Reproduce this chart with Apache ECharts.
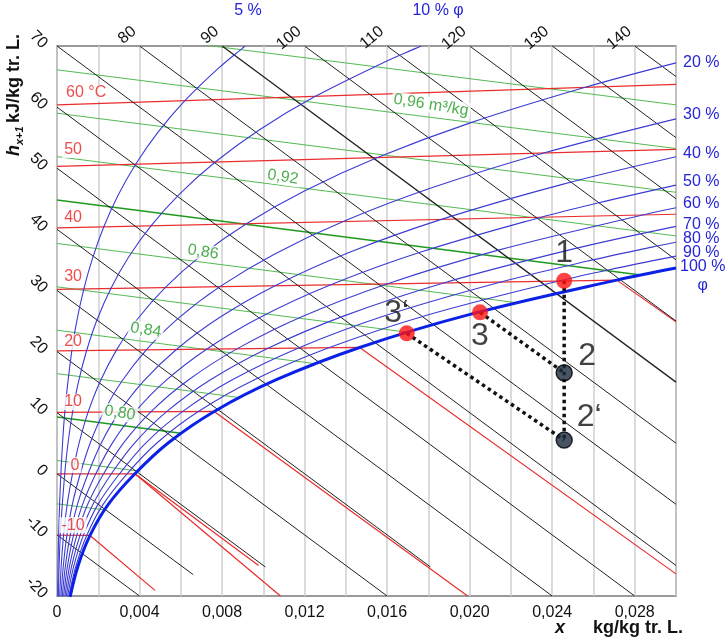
<!DOCTYPE html>
<html>
<head>
<meta charset="utf-8">
<script src="https://cdn.jsdelivr.net/npm/echarts@6/dist/echarts.min.js"></script>
<style>
  html, body { margin: 0; padding: 0; background: #fff; }
  #chart { width: 726px; height: 640px; }
</style>
</head>
<body>
<div id="chart"></div>
<script>
// h,x-Diagramm: x in g/kg, senkrecht h - 2,5*x (kJ/kg)

// relative Feuchte phi
const phi5 = [[0.032,-20.12],[0.080,-10.06],[0.188,0],[0.377,10.06],[0.718,20.15],[0.971,25.20],[1.302,30.25],[1.728,35.32],[2.270,40.41],[2.954,45.52],[3.812,50.65],[4.880,55.83],[6.198,61.05],[7.814,66.33],[8.953,69.54],[9.12,70.0]]
const phi10 = [[0.063,-20.12],[0.160,-10.06],[0.375,0],[0.536,5.04],[0.754,10.07],[1.047,15.12],[1.437,20.17],[1.946,25.24],[2.610,30.33],[3.465,35.44],[4.556,40.58],[5.938,45.77],[7.671,51.01],[9.836,56.34],[12.52,61.76],[15.83,67.30],[17.36,69.57],[17.66,70.0]]
const phi20 = [[0.127,-20.12],[0.203,-15.10],[0.319,-10.07],[0.493,-5.03],[0.751,0],[1.072,5.04],[1.509,10.09],[2.097,15.15],[2.880,20.23],[3.904,25.33],[5.242,30.47],[6.968,35.66],[9.179,40.92],[11.99,46.27],[15.53,51.74],[19.99,57.38],[25.56,63.21],[30.0,67.24]]
const phi30 = [[0.190,-20.13],[0.305,-15.10],[0.479,-10.07],[0.741,-5.04],[1.128,0],[1.610,5.045],[2.266,10.10],[3.150,15.18],[4.330,20.28],[5.874,25.42],[7.895,30.62],[10.51,35.89],[13.87,41.27],[18.16,46.79],[23.59,52.49],[30.0,58.08]]
const phi40 = [[0.254,-20.13],[0.406,-15.10],[0.639,-10.07],[0.988,-5.04],[1.505,0],[2.148,5.05],[3.025,10.12],[4.207,15.21],[5.787,20.34],[7.857,25.52],[10.57,30.77],[14.09,36.13],[18.63,41.63],[24.45,47.32],[30.0,51.87]]
const phi50 = [[0.317,-20.13],[0.508,-15.10],[0.799,-10.07],[1.236,-5.04],[1.882,0],[2.687,5.055],[3.786,10.13],[5.269,15.24],[7.250,20.39],[9.853,25.61],[13.27,30.92],[17.71,36.36],[23.47,41.99],[26.20,44.30],[30.0,47.23]]
const phi60 = [[0.381,-20.13],[0.609,-15.11],[0.959,-10.07],[1.483,-5.04],[2.259,0],[3.227,5.06],[4.548,10.14],[6.333,15.27],[8.721,20.44],[11.86,25.70],[15.99,31.07],[21.39,36.60],[28.38,42.35],[30.0,43.53]]
const phi70 = [[0.444,-20.14],[0.711,-15.11],[1.119,-10.08],[1.731,-5.05],[2.637,0],[3.768,5.065],[5.314,10.16],[7.400,15.30],[10.20,20.50],[13.88,25.80],[18.74,31.23],[25.09,36.84],[30.0,40.49]]
const phi80 = [[0.508,-20.14],[0.813,-15.12],[1.279,-10.08],[1.979,-5.05],[3.031,0],[4.311,5.07],[6.080,10.17],[8.472,15.33],[11.68,20.55],[15.92,25.89],[21.51,31.38],[25.67,34.77],[28.84,37.09],[30.0,37.88]]
const phi90 = [[0.571,-20.14],[0.915,-15.12],[1.439,-10.09],[2.227,-5.05],[3.395,0],[4.853,5.075],[6.848,10.19],[9.547,15.36],[13.17,20.61],[17.96,25.99],[24.31,31.54],[27.37,33.82],[30.0,35.62]]
const phi100 = [[0.635,-20.14],[1.016,-15.12],[1.600,-10.09],[2.476,-5.05],[3.775,0],[5.40,5.08],[7.62,10.20],[10.63,15.39],[14.67,20.67],[20.02,26.08],[27.13,31.69],[30.0,33.66]]
const phiCurves = [phi5, phi10, phi20, phi30, phi40, phi50, phi60, phi70, phi80, phi90]
const phiNames = ['5 %', '10 % φ', '20 %', '30 %', '40 %', '50 %', '60 %', '70 %', '80 %', '90 %']

// Isothermen (rot), mit Nebelgebiet
const iso60 = [[0,60.36],[30,63.71]]
const iso50 = [[0,50.30],[30,53.09]]
const iso40 = [[0,40.24],[30,42.47]]
const iso30 = [[0,30.18],[27.13,31.69],[30,24.87]]
const iso20 = [[0,20.12],[14.67,20.67],[30,-16.38]]
const iso10 = [[0,10.06],[7.62,10.20],[19.90,-20]]
const iso0 = [[0,0],[3.775,0],[9.77,-15]]
const iso0ice = [[3.775,0],[10.83,-20]]
const isoM10 = [[0,-10.06],[1.60,-10.09],[4.75,-19.08]]
const isotherms = [iso60, iso50, iso40, iso30, iso20, iso10, iso0, iso0ice, isoM10]

// Enthalpie-Linien (schwarz), h = -10 ... 140
const hValues = [-10, 0, 10, 20, 30, 40, 50, 60, 70, 80, 90, 100, 110, 120, 130, 140]
const hLines = [
  [[0,-10],[4.0,-20]], [[0,0],[6.6,-16.5]], [[0,10],[10.1,-15.25]], [[0,20],[16.0,-20]],
  [[0,30],[18.1,-15.25]], [[0,40],[24.0,-20]], [[0,50],[28.0,-20]], [[0,60],[30,-15]],
  [[0,70],[30,-5]], [[4,70],[30,5]], [[8,70],[30,15]], [[12,70],[30,25]],
  [[16,70],[30,35]], [[20,70],[30,45]], [[24,70],[30,55]], [[28,70],[30,65]]
]

// spez. Volumen (gruen), m3/kg
const volValues = [0.76, 0.78, 0.80, 0.82, 0.84, 0.86, 0.88, 0.90, 0.92, 0.94, 0.96, 0.98]
const volLines = [
  [[0,-4.92],[2.29,-5.90]], [[0,2.18],[3.90,0.46]], [[0,9.29],[6.01,6.64]], [[0,16.39],[8.83,12.48]],
  [[0,23.49],[12.50,18.02]], [[0,30.59],[16.97,23.17]], [[0,37.69],[22.28,27.99]], [[0,44.80],[28.3,32.52]],
  [[0,51.90],[30,38.92]], [[0,59.00],[30,46.06]], [[0,66.10],[30,53.22]], [[5,71.08],[30,60.37]]
]

// Zustandspunkte
const pointNames = ['1', '3', '3‘', '2', '2‘']
const pointX = [24.58, 20.50, 16.95, 24.58, 24.58]
const pointY = [31.59, 26.42, 22.98, 16.53, 5.51]

// Achsen
const xTicks = [0, 0.004, 0.008, 0.012, 0.016, 0.020, 0.024, 0.028]
const xTickLabels = ['0', '0,004', '0,008', '0,012', '0,016', '0,020', '0,024', '0,028']
const topTickLabels = ['', '80', '90', '100', '110', '120', '130', '140']

// Beschriftungen im Diagramm
const tempLabels = ['60 °C', '50', '40', '30', '20', '10', '0', '-10']
const tempLabelX = [1.41, 0.78, 0.78, 0.78, 0.78, 0.78, 0.87, 0.78]
const tempLabelY = [62.31, 52.98, 41.85, 32.19, 21.56, 11.74, 1.42, -8.40]
const volLabels = ['0,80', '0,84', '0,86', '0,92', '0,96 m³/kg']
const volLabelX = [3.05, 4.31, 7.08, 10.95, 18.13]
const volLabelY = [9.93, 23.52, 36.28, 48.56, 60.34]

const FONT = 'Liberation Sans, Arial, sans-serif'
const BLUE = '#3c3cd2'
const LBLUE = '#2424d8'

const toKg = pts => pts.map(p => [p[0] / 1000, p[1]])
const tickLabel = (labels) => (v) => {
  for (let i = 0; i < xTicks.length; i++) {
    if (Math.abs(v - xTicks[i]) < 1e-9) return labels[i]
  }
  return ''
}

function line(pts, color, width, z, extra) {
  return Object.assign({
    type: 'line', data: toKg(pts), symbol: 'none', silent: true, animation: false,
    lineStyle: { color: color, width: width }, z: z
  }, extra || {})
}

const series = []

// gruene Linien
volLines.forEach((pts, i) => {
  const strong = Math.abs(volValues[i] - 0.80) < 1e-6 || Math.abs(volValues[i] - 0.90) < 1e-6
  series.push(line(pts, strong ? '#1f9a1f' : '#52bb52', strong ? 1.4 : 1, 2))
})
// rote Isothermen
isotherms.forEach(pts => series.push(line(pts, '#ea2c2c', 1.2, 3)))
// schwarze h-Linien
hLines.forEach((pts, i) => series.push(line(pts, '#222', hValues[i] === 90 ? 1.3 : 1, 3)))

// phi-Kurven mit Endbeschriftung
const endOffsets = [[-11, -35], [-9, -35], [7, 0], [7, -4], [7, -3], [7, -4], [7, -4], [7, -2], [7, -4], [7, -4]]
phiCurves.forEach((pts, i) => {
  series.push(line(pts, BLUE, 1.1, 4, {
    smooth: 0.35,
    endLabel: {
      show: true, formatter: phiNames[i], color: LBLUE, fontSize: 16, fontFamily: FONT,
      distance: 0, offset: endOffsets[i]
    }
  }))
})
series.push(line(phi100, '#0b22e6', 3, 5, {
  smooth: 0.35,
  endLabel: {
    show: true, distance: 0, offset: [4, 8],
    formatter: '{a|100 %}\n{b|φ}',
    rich: {
      a: { color: LBLUE, fontSize: 16, fontFamily: FONT, lineHeight: 19 },
      b: { color: LBLUE, fontSize: 16, fontFamily: FONT, lineHeight: 19, align: 'center' }
    }
  }
}))

// Prozesslinien (punktiert)
const dotted = { color: '#111', width: 3.5, type: [3.5, 3.5] }
const seg = (a, b) => [[pointX[a], pointY[a]], [pointX[b], pointY[b]]]
;[seg(0, 4), seg(1, 3), seg(2, 4)].forEach(pts => {
  series.push(line(pts, '#111', 3.5, 6, { lineStyle: dotted }))
})

// Zustandspunkte
const labelOffsets = [[0, -28], [0, 24], [-10, -20], [23, -17], [25, -23]]
series.push({
  type: 'scatter', silent: true, animation: false, z: 7, symbolSize: 16,
  data: pointNames.map((n, i) => ({
    name: n,
    value: [pointX[i] / 1000, pointY[i]],
    itemStyle: i < 3 ? { color: '#ff1414' } : { color: '#1b2a3e', borderColor: '#000', borderWidth: 1.5 },
    label: { offset: labelOffsets[i] }
  })),
  label: {
    show: true, position: 'inside', formatter: p => p.name,
    color: '#111', fontSize: 32, fontFamily: FONT
  }
})

// Texte an den Linien
function textSeries(names, xs, ys, color, rotate) {
  return {
    type: 'scatter', silent: true, animation: false, z: 6, clip: false,
    symbolSize: 1, itemStyle: { color: 'rgba(0,0,0,0)' },
    data: names.map((n, i) => ({ name: n, value: [xs[i] / 1000, ys[i]] })),
    label: {
      show: true, position: 'inside', formatter: p => p.name, color: color,
      fontSize: 16, fontFamily: FONT, rotate: rotate,
      backgroundColor: '#fff', padding: [0, 2]
    }
  }
}
series.push(textSeries(tempLabels, tempLabelX, tempLabelY, '#e82020', 0))
series.push(textSeries(volLabels, volLabelX, volLabelY, '#1f9a1f', -9))

const chart = echarts.init(document.getElementById('chart'))
chart.setOption({
  animation: false,
  backgroundColor: '#fff',
  grid: {
    left: 57, top: 46, width: 619, height: 550,
    show: true, borderColor: '#7a7a7a', borderWidth: 1.5, backgroundColor: 'transparent',
    outerBoundsMode: 'none'
  },
  xAxis: [
    {
      type: 'value', min: 0, max: 0.03, interval: 0.002, position: 'bottom',
      axisLine: { show: false }, axisTick: { show: false },
      axisLabel: { formatter: tickLabel(xTickLabels), color: '#111', fontSize: 16, fontFamily: FONT, margin: 9 },
      splitLine: { show: true, lineStyle: { color: '#cfcfcf', width: 1.5 } }
    },
    {
      type: 'value', min: 0, max: 0.03, interval: 0.002, position: 'top',
      axisLine: { show: false }, axisTick: { show: false }, splitLine: { show: false },
      axisLabel: {
        formatter: tickLabel(topTickLabels), color: '#111', fontSize: 16, fontFamily: FONT,
        rotate: -40, margin: 21, align: 'right', verticalAlign: 'middle', padding: [0, 7, 0, 0]
      }
    }
  ],
  yAxis: {
    type: 'value', min: -20, max: 70, interval: 10,
    axisLine: { show: false }, axisTick: { show: false }, splitLine: { show: false },
    axisLabel: { color: '#111', fontSize: 16, fontFamily: FONT, rotate: -45, margin: 12 }
  },
  graphic: [
    {
      type: 'text', x: 14, y: 95, rotation: Math.PI / 2, silent: true,
      style: {
        text: '{h|h}{s|x+1} {u|kJ/kg tr. L.}',
        align: 'center', verticalAlign: 'middle',
        rich: {
          h: { fontSize: 18, fontWeight: 'bold', fontStyle: 'italic', fontFamily: FONT, lineHeight: 22, fill: '#111' },
          s: { fontSize: 11, fontWeight: 'bold', fontStyle: 'italic', fontFamily: FONT, lineHeight: 22, verticalAlign: 'bottom', fill: '#111' },
          u: { fontSize: 18, fontWeight: 'bold', fontFamily: FONT, lineHeight: 22, fill: '#111' }
        }
      }
    },
    {
      type: 'text', x: 560, y: 628, silent: true,
      style: { text: 'x', font: 'italic bold 18px ' + FONT, fill: '#111', align: 'center', verticalAlign: 'middle' }
    },
    {
      type: 'text', x: 638, y: 628, silent: true,
      style: { text: 'kg/kg tr. L.', font: 'bold 18px ' + FONT, fill: '#111', align: 'center', verticalAlign: 'middle' }
    }
  ],
  series: series
})
</script>
</body>
</html>
